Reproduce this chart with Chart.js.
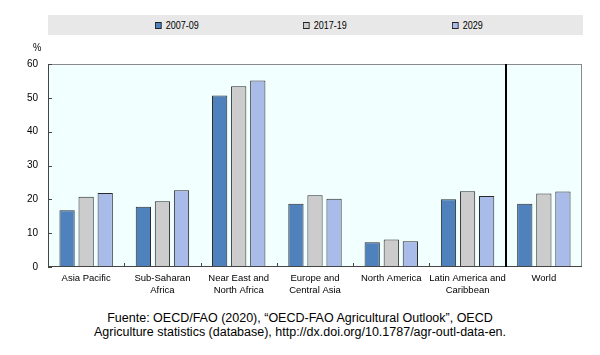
<!DOCTYPE html>
<html>
<head>
<meta charset="utf-8">
<script src="https://cdn.jsdelivr.net/npm/chart.js@4/dist/chart.umd.min.js"></script>
<style>
  html, body { margin: 0; padding: 0; background: #ffffff; }
  body { width: 600px; height: 355px; position: relative; overflow: hidden; font-family: "Liberation Sans", Arial, sans-serif; }
  #wrap { position: absolute; left: 0; top: 0; width: 600px; height: 300px; }
  #legend { position: absolute; left: 48px; top: 15px; width: 535px; height: 20px; background: #e8e8e8; }
  .item { position: absolute; top: 0; height: 20px; line-height: 20px; font-family: "Liberation Sans", Arial, sans-serif; font-size: 11px; color: #000; white-space: nowrap; transform: scaleX(0.82); transform-origin: 0 50%; }
  .sw { display: inline-block; width: 6px; height: 5px; border: 1px solid #222; vertical-align: middle; margin-right: 5px; position: relative; top: -1px; }
  #pct { position: absolute; left: 33px; top: 41px; font-family: "Liberation Sans", Arial, sans-serif; font-size: 11px; color: #000; transform: scaleX(0.85); transform-origin: 0 50%; }
  #foot { position: absolute; left: 0; top: 311px; width: 600px; text-align: center; font-size: 12.5px; line-height: 14px; color: #000; }
</style>
</head>
<body>
<div id="wrap"><canvas id="c" width="600" height="300"></canvas></div>
<div id="legend"></div>
<div id="pct">%</div>
<div id="foot">Fuente: OECD/FAO (2020), “OECD-FAO Agricultural Outlook”, OECD<br>Agriculture statistics (database), http://dx.doi.org/10.1787/agr-outl-data-en.</div>
<script>
const categories = [
  "Asia Pacific",
  ["Sub-Saharan", "Africa"],
  ["Near East and", "North Africa"],
  ["Europe and", "Central Asia"],
  "North America",
  ["Latin America and", "Caribbean"],
  "World"
];
const seriesNames = ["2007-09", "2017-19", "2029"];
const values2007_09 = [16.8, 17.8, 50.7, 18.7, 7.3, 20.0, 18.7];
const values2017_19 = [20.8, 19.4, 53.4, 21.2, 8.1, 22.4, 21.7];
const values2029    = [21.9, 22.7, 55.1, 20.2, 7.6, 21.0, 22.3];
const yTicks = [0, 10, 20, 30, 40, 50, 60];

const colors = ["#4f81bd", "#cccccc", "#a9bbe8"];
const seriesValues = [values2007_09, values2017_19, values2029];

// HTML legend
const legendPos = [107, 255, 404];
const legendEl = document.getElementById('legend');
seriesNames.forEach((n, i) => {
  const d = document.createElement('div');
  d.className = 'item';
  d.style.left = legendPos[i] + 'px';
  const s = document.createElement('span');
  s.className = 'sw';
  s.style.background = colors[i];
  d.appendChild(s);
  d.appendChild(document.createTextNode(n));
  legendEl.appendChild(d);
});

const tickFont = '"Liberation Sans", Arial, sans-serif';

const framePlugin = {
  id: 'frame',
  beforeDatasetsDraw(chart) {
    const a = chart.chartArea, ctx = chart.ctx;
    ctx.save();
    ctx.fillStyle = '#f2ffff';
    ctx.fillRect(a.left, a.top, a.right - a.left, a.bottom - a.top);
    ctx.restore();
  },
  afterDatasetsDraw(chart) {
    const a = chart.chartArea, ctx = chart.ctx;
    const x = chart.scales.x, y = chart.scales.y;
    ctx.save();
    ctx.strokeStyle = '#8a8a8a';
    ctx.lineWidth = 1;
    ctx.beginPath();
    ctx.moveTo(a.left, a.top + 0.5); ctx.lineTo(a.right, a.top + 0.5);
    ctx.moveTo(a.right - 0.5, a.top); ctx.lineTo(a.right - 0.5, a.bottom);
    ctx.stroke();
    ctx.strokeStyle = '#444';
    ctx.beginPath();
    ctx.moveTo(a.left + 0.5, a.top); ctx.lineTo(a.left + 0.5, a.bottom);
    ctx.moveTo(a.left, a.bottom - 0.5); ctx.lineTo(a.right, a.bottom - 0.5);
    ctx.stroke();
    yTicks.forEach(v => {
      const py = Math.round(y.getPixelForValue(v)) + 0.5;
      ctx.beginPath(); ctx.moveTo(a.left, py); ctx.lineTo(a.left + 4, py); ctx.stroke();
    });
    for (let i = 1; i < categories.length; i++) {
      const px = Math.round((x.getPixelForValue(i - 1) + x.getPixelForValue(i)) / 2) + 0.5;
      ctx.beginPath(); ctx.moveTo(px, a.bottom); ctx.lineTo(px, a.bottom - 4); ctx.stroke();
    }
    const n = categories.length;
    const sx = Math.round((x.getPixelForValue(n - 2) + x.getPixelForValue(n - 1)) / 2);
    ctx.strokeStyle = '#000';
    ctx.lineWidth = 2;
    ctx.beginPath(); ctx.moveTo(sx, a.top); ctx.lineTo(sx, a.bottom); ctx.stroke();
    ctx.restore();
  }
};

new Chart(document.getElementById('c'), {
  type: 'bar',
  data: {
    labels: categories,
    datasets: seriesNames.map((n, i) => ({
      label: n,
      data: seriesValues[i],
      backgroundColor: colors[i],
      borderColor: '#2a2a2a',
      borderWidth: 1,
      barPercentage: 0.8,
      categoryPercentage: 0.75
    }))
  },
  options: {
    responsive: false,
    animation: false,
    events: [],
    layout: { padding: { top: 64, right: 18, left: 0, bottom: 0 } },
    plugins: { legend: { display: false }, tooltip: { enabled: false } },
    scales: {
      x: {
        grid: { display: false, drawTicks: false },
        border: { display: false },
        ticks: { color: '#000', font: { family: tickFont, size: 9.5, lineHeight: 1.3 }, padding: 5, maxRotation: 0, autoSkip: false },
        afterFit(s) { s.height = 33; }
      },
      y: {
        min: 0, max: 60,
        afterBuildTicks(s) { s.ticks = yTicks.map(v => ({ value: v })); },
        grid: { display: false, drawTicks: false },
        border: { display: false },
        ticks: { color: '#000', font: { family: tickFont, size: 10 }, padding: 10 },
        afterFit(s) { s.width = 48; }
      }
    }
  },
  plugins: [framePlugin]
});
</script>
</body>
</html>
